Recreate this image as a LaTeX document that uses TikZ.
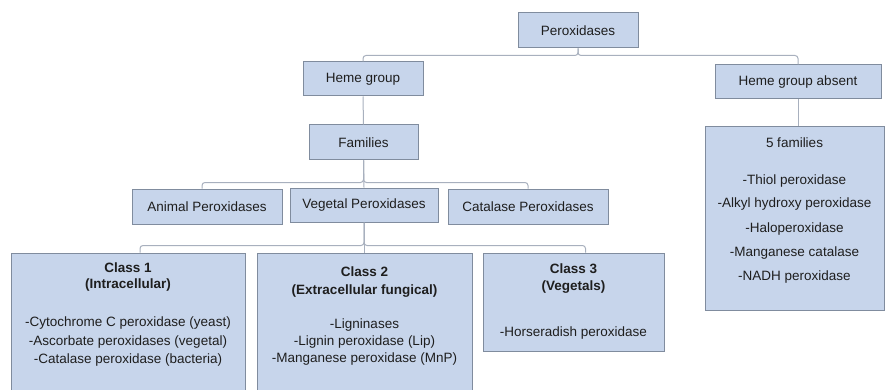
\documentclass[tikz,border=0pt]{standalone}
\usepackage{fontspec}
\setmainfont{Liberation Sans}
\definecolor{boxfill}{RGB}{199,213,235}
\definecolor{boxline}{RGB}{128,140,158}
\definecolor{connline}{RGB}{168,176,190}
\definecolor{txt}{RGB}{30,30,30}
\tikzset{
  box/.style={draw=boxline, line width=1pt, fill=boxfill, inner sep=0pt, text=txt, font=\fontsize{13.5}{16}\selectfont},
  conn/.style={draw=connline, line width=1pt, rounded corners=3pt},
  lbl/.style={inner sep=0pt, text=txt, font=\fontsize{13.5}{16}\selectfont},
  hdr/.style={lbl, font=\fontsize{13.5}{16}\selectfont\bfseries}
}
\begin{document}
\begin{tikzpicture}[x=1pt,y=-1pt]
\clip (0,0) rectangle (885,390);
\fill[white] (0,0) rectangle (885,390);
% nodes
\node[box, minimum width=120, minimum height=35] (per) at (578,30.5) {Peroxidases};
\node[box, minimum width=120, minimum height=34] (heme) at (363,79) {Heme group};
\node[box, minimum width=166, minimum height=34] (hga) at (798,82) {Heme group absent};
\node[box, minimum width=109, minimum height=35] (fam) at (363.5,142.5) {Families};
\node[box, minimum width=150, minimum height=35] (anim) at (207,206.5) {Animal Peroxidases};
\node[box, minimum width=148, minimum height=34] (veg) at (364,205) {Vegetal Peroxidases};
\node[box, minimum width=160, minimum height=35] (cat) at (528,206.5) {Catalase Peroxidases};
\node[box, minimum width=234, minimum height=143] (c1) at (128,324.5) {};
\node[box, minimum width=215, minimum height=143] (c2) at (364.5,324.5) {};
\node[box, minimum width=181, minimum height=98] (c3) at (573.5,302) {};
\node[box, minimum width=179, minimum height=183] (fiv) at (794.5,218.5) {};
% connectors
\draw[conn] (per.south) -- ++(0,7) -| (heme.north);
\draw[conn] (per.south) -- ++(0,7) -| (hga.north);
\draw[conn] (heme.south) -- (fam.north);
\draw[conn] (fam.south) -- ++(0,22) -| ([xshift=-5pt]anim.north);
\draw[conn] (fam.south) -- (veg.north);
\draw[conn] (fam.south) -- ++(0,22) -| (cat.north);
\draw[conn] (veg.south) -- ++(0,23) -| ([xshift=12pt]c1.north);
\draw[conn] (veg.south) -- (veg.south |- c2.north);
\draw[conn] (veg.south) -- ++(0,23) -| ([xshift=12pt]c3.north);
\draw[conn] (hga.south) -- (hga.south |- fiv.north);
% class 1 text
\node[hdr] (c1h1) at (128,268) {Class 1};
\node[hdr] (c1h2) at (128,285) {(Intracellular)};
\node[lbl] (c1a) at (128,323) {-Cytochrome C peroxidase (yeast)};
\node[lbl] (c1b) at (128,342) {-Ascorbate peroxidases (vegetal)};
\node[lbl] (c1c) at (128,360) {-Catalase peroxidase (bacteria)};
% class 2 text
\node[hdr] (c2h1) at (364.5,272) {Class 2};
\node[hdr] (c2h2) at (364.5,291) {(Extracellular fungical)};
\node[lbl] (c2a) at (364.5,325) {-Ligninases};
\node[lbl] (c2b) at (364.5,342) {-Lignin peroxidase (Lip)};
\node[lbl] (c2c) at (364.5,359) {-Manganese peroxidase (MnP)};
% class 3 text
\node[hdr] (c3h1) at (573.5,269) {Class 3};
\node[hdr] (c3h2) at (573.5,287) {(Vegetals)};
\node[lbl] (c3a) at (573.5,333) {-Horseradish peroxidase};
% five families text
\node[lbl] (f0) at (794.5,143) {5 families};
\node[lbl] (f1) at (794.5,181) {-Thiol peroxidase};
\node[lbl] (f2) at (794.5,204) {-Alkyl hydroxy peroxidase};
\node[lbl] (f3) at (794.5,229) {-Haloperoxidase};
\node[lbl] (f4) at (794.5,253) {-Manganese catalase};
\node[lbl] (f5) at (794.5,277) {-NADH peroxidase};
\end{tikzpicture}
\end{document}
